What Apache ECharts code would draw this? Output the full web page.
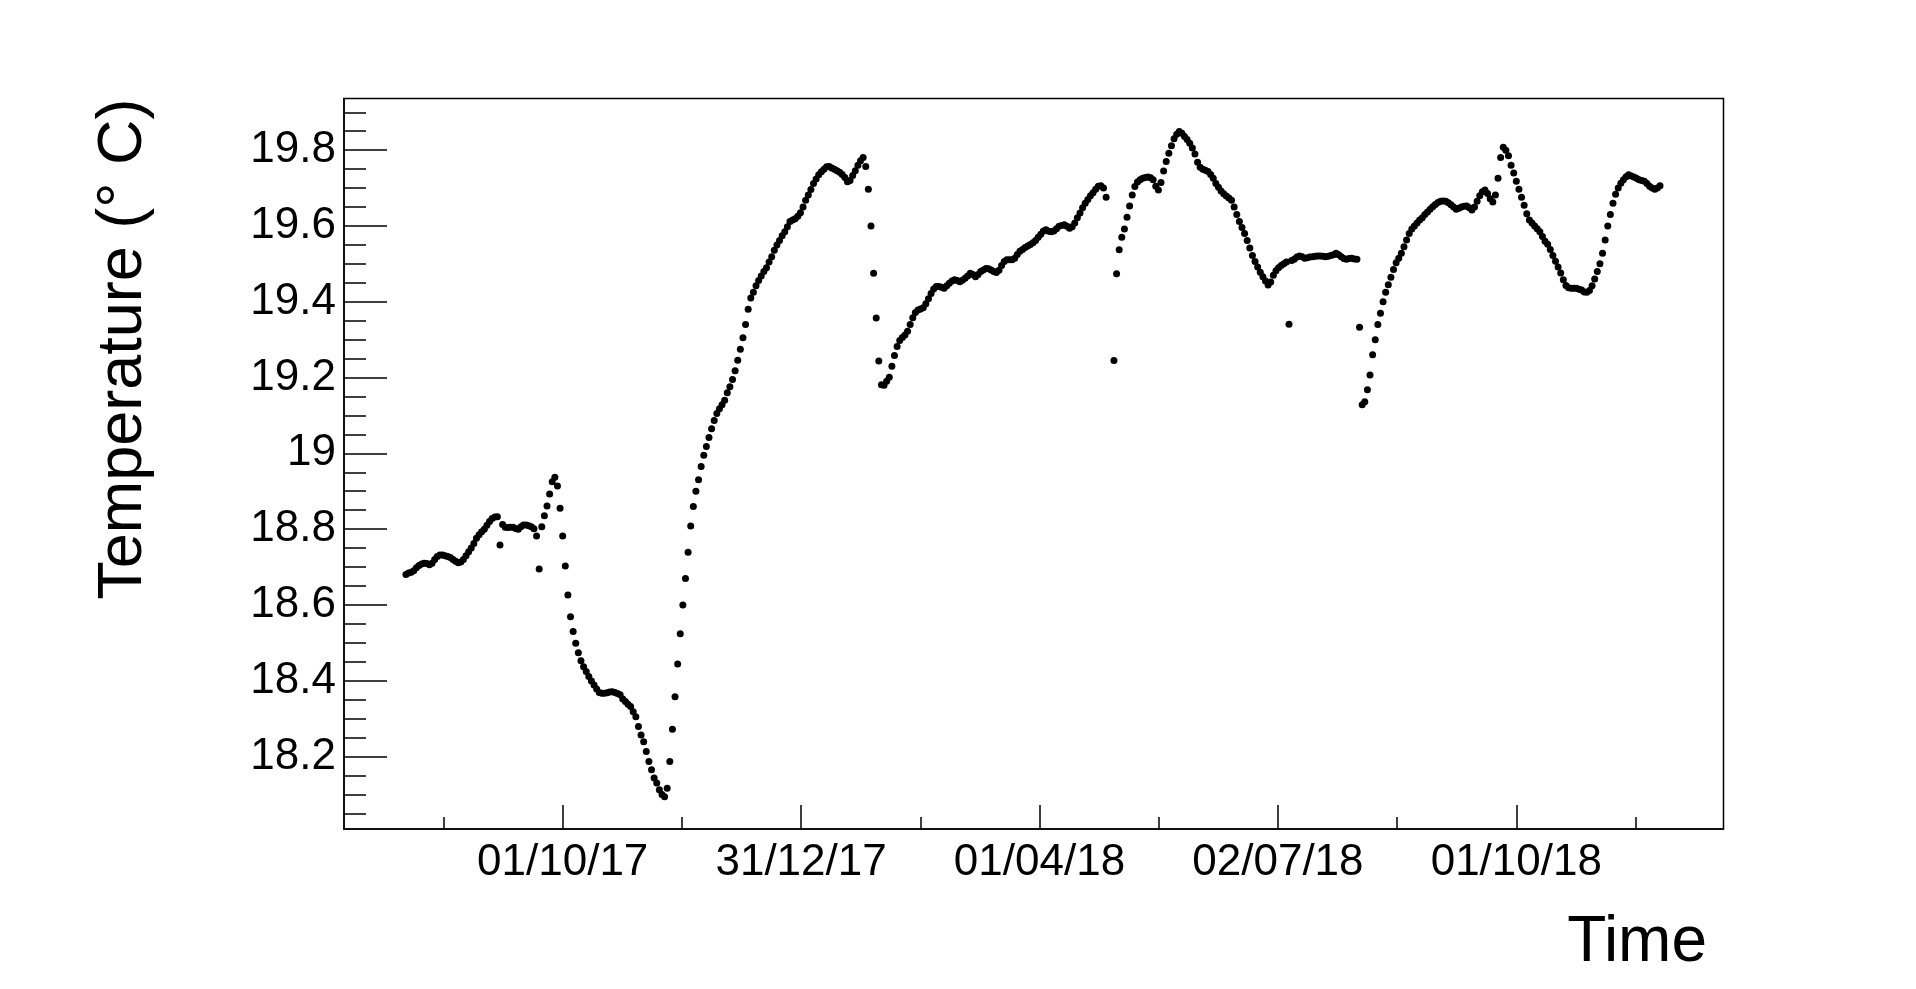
<!DOCTYPE html>
<html>
<head>
<meta charset="utf-8">
<title>Temperature vs Time</title>
<script src="https://cdn.jsdelivr.net/npm/echarts@6/dist/echarts.min.js"></script>
<style>
  html, body { margin: 0; padding: 0; background: #fff; }
  #chart { width: 1916px; height: 989px; }
</style>
</head>
<body>
<div id="chart"></div>
<script>
// x is counted in days from the 01/10/17 tick, one reading per day
const firstDay = -60

const temps = [
  18.680, 18.684, 18.686, 18.690, 18.698, 18.704, 18.708, 18.710, 18.709, 18.706,
  18.710, 18.720, 18.728, 18.732, 18.732, 18.730, 18.728, 18.725, 18.720, 18.715,
  18.711, 18.713, 18.720, 18.730, 18.740, 18.750, 18.762, 18.776, 18.785, 18.793,
  18.800, 18.810, 18.820, 18.828, 18.832, 18.833, 18.758, 18.812, 18.805, 18.804,
  18.805, 18.805, 18.802, 18.800, 18.806, 18.811, 18.811, 18.809, 18.806, 18.801,
  18.782, 18.695, 18.806, 18.835, 18.861, 18.893, 18.925, 18.937, 18.914, 18.855,
  18.782, 18.703, 18.626, 18.569, 18.530, 18.499, 18.474, 18.453, 18.437, 18.424,
  18.411, 18.399, 18.389, 18.378, 18.369, 18.367, 18.367, 18.368, 18.370, 18.371,
  18.369, 18.366, 18.363, 18.352, 18.345, 18.338, 18.332, 18.318, 18.305, 18.279,
  18.257, 18.239, 18.213, 18.187, 18.165, 18.143, 18.130, 18.112, 18.100, 18.094,
  18.116, 18.187, 18.272, 18.358, 18.444, 18.524, 18.600, 18.670, 18.739, 18.808,
  18.860, 18.900, 18.930, 18.965, 18.995, 19.018, 19.042, 19.065, 19.087, 19.105,
  19.118, 19.128, 19.140, 19.160, 19.176, 19.195, 19.218, 19.246, 19.275, 19.305,
  19.340, 19.380, 19.410, 19.425, 19.442, 19.456, 19.468, 19.480, 19.490, 19.505,
  19.519, 19.536, 19.550, 19.562, 19.574, 19.585, 19.598, 19.612, 19.616, 19.619,
  19.626, 19.635, 19.650, 19.668, 19.682, 19.696, 19.712, 19.724, 19.735, 19.743,
  19.750, 19.756, 19.757, 19.753, 19.750, 19.746, 19.742, 19.736, 19.728, 19.717,
  19.720, 19.733, 19.746, 19.760, 19.772, 19.781, 19.757, 19.697, 19.600, 19.475,
  19.357, 19.244, 19.181, 19.180, 19.190, 19.201, 19.230, 19.258, 19.282, 19.298,
  19.306, 19.312, 19.322, 19.340, 19.358, 19.372, 19.378, 19.381, 19.384, 19.395,
  19.408, 19.422, 19.434, 19.440, 19.440, 19.438, 19.436, 19.442, 19.449, 19.455,
  19.458, 19.456, 19.453, 19.457, 19.462, 19.468, 19.475, 19.472, 19.466, 19.472,
  19.480, 19.484, 19.488, 19.487, 19.484, 19.480, 19.477, 19.483, 19.496, 19.506,
  19.511, 19.511, 19.511, 19.515, 19.525, 19.533, 19.538, 19.543, 19.547, 19.551,
  19.556, 19.562, 19.570, 19.578, 19.587, 19.590, 19.586, 19.585, 19.587, 19.593,
  19.599, 19.601, 19.603, 19.599, 19.594, 19.598, 19.608, 19.622, 19.634, 19.648,
  19.660, 19.670, 19.680, 19.688, 19.697, 19.705, 19.706, 19.700, 19.676, null,
  null, 19.245, 19.474, 19.537, 19.570, 19.592, 19.623, 19.653, 19.682, 19.704,
  19.716, 19.722, 19.726, 19.728, 19.729, 19.727, 19.722, 19.705, 19.695, 19.715,
  19.745, 19.770, 19.792, 19.812, 19.830, 19.842, 19.849, 19.845, 19.836, 19.828,
  19.818, 19.806, 19.790, 19.768, 19.755, 19.750, 19.747, 19.744, 19.736, 19.726,
  19.712, 19.702, 19.692, 19.685, 19.679, 19.674, 19.668, 19.650, 19.630, 19.612,
  19.596, 19.580, 19.562, 19.542, 19.522, 19.506, 19.492, 19.478, 19.466, 19.455,
  19.444, 19.452, 19.470, 19.482, 19.490, 19.496, 19.500, 19.505, 19.341, 19.509,
  19.512, 19.518, 19.521, 19.519, 19.515, 19.516, 19.518, 19.519, 19.520, 19.521,
  19.521, 19.520, 19.519, 19.520, 19.522, 19.524, 19.528, 19.524, 19.519, 19.514,
  19.512, 19.514, 19.515, 19.513, 19.512, 19.333, 19.128, 19.136, 19.168, 19.207,
  19.260, 19.300, 19.340, 19.370, 19.400, 19.425, 19.445, 19.465, 19.485, 19.503,
  19.515, 19.528, 19.545, 19.563, 19.580, 19.592, 19.600, 19.608, 19.616, 19.622,
  19.630, 19.637, 19.644, 19.651, 19.657, 19.662, 19.665, 19.666, 19.665, 19.661,
  19.656, 19.650, 19.644, 19.647, 19.650, 19.652, 19.653, 19.648, 19.642, 19.650,
  19.665, 19.680, 19.690, 19.695, 19.686, 19.672, 19.663, 19.682, 19.726, 19.781,
  19.808, 19.800, 19.785, 19.760, 19.740, 19.718, 19.697, 19.676, 19.655, 19.632,
  19.616, 19.608, 19.600, 19.593, 19.585, 19.572, 19.560, 19.552, 19.538, 19.522,
  19.507, 19.492, 19.476, 19.458, 19.443, 19.437, 19.436, 19.436, 19.436, 19.433,
  19.431, 19.426, 19.425, 19.430, 19.442, 19.460, 19.480, 19.500, 19.528, 19.563,
  19.600, 19.630, 19.660, 19.684, 19.700, 19.713, 19.722, 19.730, 19.735, 19.732,
  19.729, 19.726, 19.722, 19.720, 19.718, 19.712, 19.705, 19.700, 19.697, 19.700,
  19.706
]

const tickDays = [0, 91.25, 182.5, 273.75, 365]
const tickLabels = ['01/10/17', '31/12/17', '01/04/18', '02/07/18', '01/10/18']
const minorDays = [-45.625, 45.625, 136.875, 228.125, 319.375, 410.625]

const yTicks = [18.2, 18.4, 18.6, 18.8, 19, 19.2, 19.4, 19.6, 19.8]
const yMinor = [18.05, 18.1, 18.15, 18.25, 18.3, 18.35, 18.45, 18.5, 18.55,
  18.65, 18.7, 18.75, 18.85, 18.9, 18.95, 19.05, 19.1, 19.15, 19.25, 19.3,
  19.35, 19.45, 19.5, 19.55, 19.65, 19.7, 19.75, 19.85, 19.9]

const xMin = -83.7, xMax = 444.3
const yMin = 18.0087, yMax = 19.9364

let points = []
for (let i = 0; i < temps.length; i++) {
  if (temps[i] !== null) points.push([firstDay + i, temps[i]])
}

let myChart = echarts.init(document.getElementById('chart'))

let line = { color: '#000', width: 1.5 }
let font = 'Liberation Sans'

let option = {
  animation: false,
  textStyle: { fontFamily: font },
  grid: {
    left: 344, right: 192.5, top: 98.5, bottom: 160,
    show: true, borderColor: '#000', borderWidth: 1.5
  },
  xAxis: [
    {
      type: 'value', min: xMin, max: xMax,
      axisLine: { show: true, onZero: false, lineStyle: line },
      axisTick: { inside: true, length: 24, customValues: tickDays, lineStyle: line },
      axisLabel: {
        customValues: tickDays,
        formatter: function (v) {
          let k = 0
          for (let i = 1; i < tickDays.length; i++) {
            if (Math.abs(tickDays[i] - v) < Math.abs(tickDays[k] - v)) k = i
          }
          return tickLabels[k]
        },
        fontSize: 44, color: '#000', fontFamily: font, margin: 12
      },
      splitLine: { show: false }
    },
    {
      type: 'value', min: xMin, max: xMax, position: 'bottom',
      axisLine: { show: false, onZero: false },
      axisTick: { inside: true, length: 12, customValues: minorDays, lineStyle: line },
      axisLabel: { show: false },
      splitLine: { show: false }
    }
  ],
  yAxis: [
    {
      type: 'value', min: yMin, max: yMax,
      axisLine: { show: true, onZero: false, lineStyle: line },
      axisTick: { inside: true, length: 43, customValues: yTicks, lineStyle: line },
      axisLabel: {
        customValues: yTicks,
        fontSize: 44, color: '#000', fontFamily: font, margin: 8
      },
      splitLine: { show: false }
    },
    {
      type: 'value', min: yMin, max: yMax, position: 'left',
      axisLine: { show: false, onZero: false },
      axisTick: { inside: true, length: 22, customValues: yMinor, lineStyle: line },
      axisLabel: { show: false },
      splitLine: { show: false }
    }
  ],
  graphic: [
    {
      type: 'text', x: 124, y: 98.5, rotation: Math.PI / 2,
      style: {
        text: 'Temperature (° C)', fill: '#000',
        font: '63px "Liberation Sans"', align: 'right', verticalAlign: 'middle'
      }
    },
    {
      type: 'text', x: 1707, y: 943,
      style: {
        text: 'Time', fill: '#000',
        font: '64px "Liberation Sans"', align: 'right', verticalAlign: 'middle'
      }
    }
  ],
  series: [
    {
      type: 'scatter',
      xAxisIndex: 0, yAxisIndex: 0,
      data: points,
      symbol: 'circle',
      symbolSize: 7,
      itemStyle: { color: '#000', opacity: 1 }
    }
  ]
}

myChart.setOption(option)
</script>
</body>
</html>
